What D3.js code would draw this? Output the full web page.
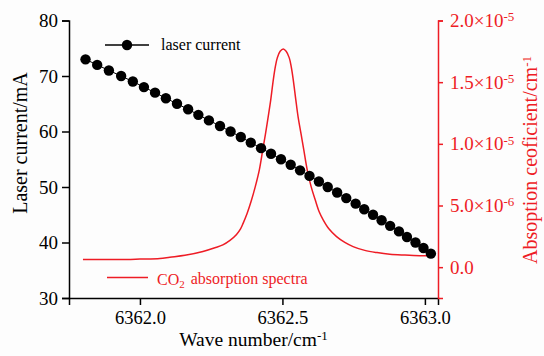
<!DOCTYPE html>
<html>
<head>
<meta charset="utf-8">
<script src="https://cdn.jsdelivr.net/npm/d3@7"></script>
<style>
  html, body { margin: 0; padding: 0; background: #fdfdfd; }
  svg text { font-family: "Liberation Serif", Tinos, "Times New Roman", Times, "DejaVu Serif", serif !important; }
</style>
</head>
<body>
<div id="chart"></div>
<script>
// ---- data ----
const laserWavenumber = [
  6361.809, 6361.850, 6361.891, 6361.934, 6361.975, 6362.014, 6362.053, 6362.091,
  6362.130, 6362.169, 6362.205, 6362.242, 6362.281, 6362.318, 6362.354, 6362.389,
  6362.425, 6362.460, 6362.495, 6362.529, 6362.562, 6362.595, 6362.628, 6362.659,
  6362.692, 6362.724, 6362.757, 6362.787, 6362.818, 6362.848, 6362.878, 6362.909,
  6362.937, 6362.967, 6362.995, 6363.021
];
const laserCurrent = [
  73, 72, 71, 70, 69, 68, 67, 66, 65, 64, 63, 62, 61, 60, 59, 58, 57, 56,
  55, 54, 53, 52, 51, 50, 49, 48, 47, 46, 45, 44, 43, 42, 41, 40, 39, 38
];
const co2Wavenumber = [
  6361.800, 6361.860, 6361.930, 6362.000, 6362.070, 6362.105, 6362.158, 6362.221,
  6362.263, 6362.291, 6362.316, 6362.339, 6362.353, 6362.362, 6362.376, 6362.391,
  6362.405, 6362.419, 6362.431, 6362.440, 6362.450, 6362.459, 6362.468, 6362.475,
  6362.482, 6362.492, 6362.503, 6362.513, 6362.524, 6362.531, 6362.538, 6362.547,
  6362.555, 6362.566, 6362.575, 6362.587, 6362.601, 6362.615, 6362.629, 6362.643,
  6362.663, 6362.690, 6362.719, 6362.748, 6362.789, 6362.832, 6362.877, 6362.930,
  6362.982, 6363.018
];
const co2Absorption = [
  0.63e-6, 0.62e-6, 0.62e-6, 0.66e-6, 0.71e-6, 0.81e-6, 0.96e-6, 1.27e-6,
  1.57e-6, 1.81e-6, 2.17e-6, 2.65e-6, 3.10e-6, 3.55e-6, 4.35e-6, 5.40e-6,
  6.55e-6, 7.89e-6, 9.51e-6, 10.73e-6, 12.19e-6, 13.57e-6, 15.19e-6, 16.24e-6,
  16.97e-6, 17.50e-6, 17.68e-6, 17.50e-6, 16.97e-6, 16.24e-6, 15.19e-6, 13.57e-6,
  12.19e-6, 10.73e-6, 9.51e-6, 7.89e-6, 6.51e-6, 5.46e-6, 4.49e-6, 3.84e-6,
  3.11e-6, 2.48e-6, 2.01e-6, 1.67e-6, 1.36e-6, 1.18e-6, 1.05e-6, 0.98e-6,
  0.93e-6, 0.92e-6
];
const xTicks = [6362.0, 6362.5, 6363.0];
const leftTicks = [30, 40, 50, 60, 70, 80];
const rightTicks = [0, 5e-6, 1.0e-5, 1.5e-5, 2.0e-5];
const seriesNames = ["laser current", "absorption spectra"];

// ---- layout ----
const W = 544, H = 356;
const red = "#ee1c25";
const plot = { left: 69, right: 438, top: 20.5, bottom: 298 };

const svg = d3.select("#chart").append("svg").attr("width", W).attr("height", H);

const x = d3.scaleLinear().domain([6361.751, 6363.046]).range([plot.left, plot.right]);
const yL = d3.scaleLinear().domain([30, 80]).range([plot.bottom, plot.top]);
const yR = d3.scaleLinear().domain([-2.5e-6, 2.0e-5]).range([plot.bottom, plot.top]);

// x axis
const gx = svg.append("g").attr("transform", `translate(0,${plot.bottom})`)
  .call(d3.axisBottom(x).tickValues(xTicks).tickFormat(d3.format(".1f")).tickSizeOuter(0).tickSize(7).tickPadding(4));
gx.select(".domain").attr("stroke", "#000").attr("stroke-width", 1.5);
gx.selectAll(".tick line").attr("stroke", "#000").attr("stroke-width", 1.5);
gx.selectAll(".tick text").attr("font-size", 18.5).attr("fill", "#000").attr("dy", "0.8em");

// left axis
const gl = svg.append("g").attr("transform", `translate(${plot.left},0)`)
  .call(d3.axisLeft(yL).tickValues(leftTicks).tickSizeOuter(0).tickSize(7).tickPadding(4));
gl.select(".domain").attr("stroke", "#000").attr("stroke-width", 1.5);
gl.selectAll(".tick line").attr("stroke", "#000").attr("stroke-width", 1.5);
gl.selectAll(".tick text").attr("font-size", 19).attr("fill", "#000");

// right axis
const gr = svg.append("g").attr("transform", `translate(${plot.right},0)`)
  .call(d3.axisRight(yR).tickValues(rightTicks).tickSizeOuter(0).tickSize(5).tickPadding(7).tickFormat(() => ""));
gr.select(".domain").attr("stroke", red).attr("stroke-width", 1.5);
gr.selectAll(".tick line").attr("stroke", red).attr("stroke-width", 1.5);
gr.selectAll(".tick text").attr("font-size", 19).attr("fill", red)
  .each(function(d) {
    const t = d3.select(this);
    if (d === 0) { t.text("0.0"); return; }
    const exp = Math.floor(Math.log10(d) + 1e-9);
    const mant = d / Math.pow(10, exp);
    t.append("tspan").text(mant.toFixed(1) + "×10");
    t.append("tspan").attr("dy", "-0.45em").attr("font-size", 13).text(String(exp));
  });

// axis titles
svg.append("text").attr("x", (plot.left + plot.right) / 2).attr("y", 346)
  .attr("text-anchor", "middle").attr("font-size", 19.5).attr("fill", "#000")
  .call(t => { t.append("tspan").text("Wave number/cm"); t.append("tspan").attr("dy", "-0.5em").attr("font-size", 13).text("-1"); });

svg.append("text").attr("transform", `translate(27,143) rotate(-90)`)
  .attr("text-anchor", "middle").attr("font-size", 20).attr("fill", "#000")
  .text("Laser current/mA");

svg.append("text").attr("transform", `translate(537,160) rotate(-90)`)
  .attr("text-anchor", "middle").attr("font-size", 20).attr("fill", red)
  .call(t => { t.append("tspan").text("Absoption ceoficient/cm"); t.append("tspan").attr("dy", "-0.5em").attr("font-size", 13).text("-1"); });

// CO2 curve
const line = d3.line().x((d, i) => x(co2Wavenumber[i])).y(d => yR(d)).curve(d3.curveCatmullRom.alpha(0.5));
svg.append("path").datum(co2Absorption).attr("d", line)
  .attr("fill", "none").attr("stroke", red).attr("stroke-width", 1.5);

// laser current line + points
const lline = d3.line().x((d, i) => x(laserWavenumber[i])).y(d => yL(d));
svg.append("path").datum(laserCurrent).attr("d", lline)
  .attr("fill", "none").attr("stroke", "#000").attr("stroke-width", 1);
svg.append("g").selectAll("circle").data(laserCurrent).join("circle")
  .attr("cx", (d, i) => x(laserWavenumber[i])).attr("cy", d => yL(d)).attr("r", 5.2).attr("fill", "#000");

// legends
const lg1 = svg.append("g");
lg1.append("line").attr("x1", 105).attr("x2", 149).attr("y1", 45).attr("y2", 45).attr("stroke", "#000").attr("stroke-width", 1.5);
lg1.append("circle").attr("cx", 127).attr("cy", 45).attr("r", 5.2).attr("fill", "#000");
lg1.append("text").attr("x", 161).attr("y", 50).attr("font-size", 16).attr("fill", "#000").text(seriesNames[0]);

const lg2 = svg.append("g");
lg2.append("line").attr("x1", 107).attr("x2", 148).attr("y1", 277.5).attr("y2", 277.5).attr("stroke", red).attr("stroke-width", 1.3);
lg2.append("text").attr("x", 157).attr("y", 285).attr("font-size", 16).attr("fill", red)
  .call(t => {
    t.append("tspan").text("CO");
    t.append("tspan").attr("dy", "0.3em").attr("font-size", 11).text("2");
    t.append("tspan").attr("dy", "-0.3em").attr("dx", 6).text(seriesNames[1]);
  });
</script>
</body>
</html>
